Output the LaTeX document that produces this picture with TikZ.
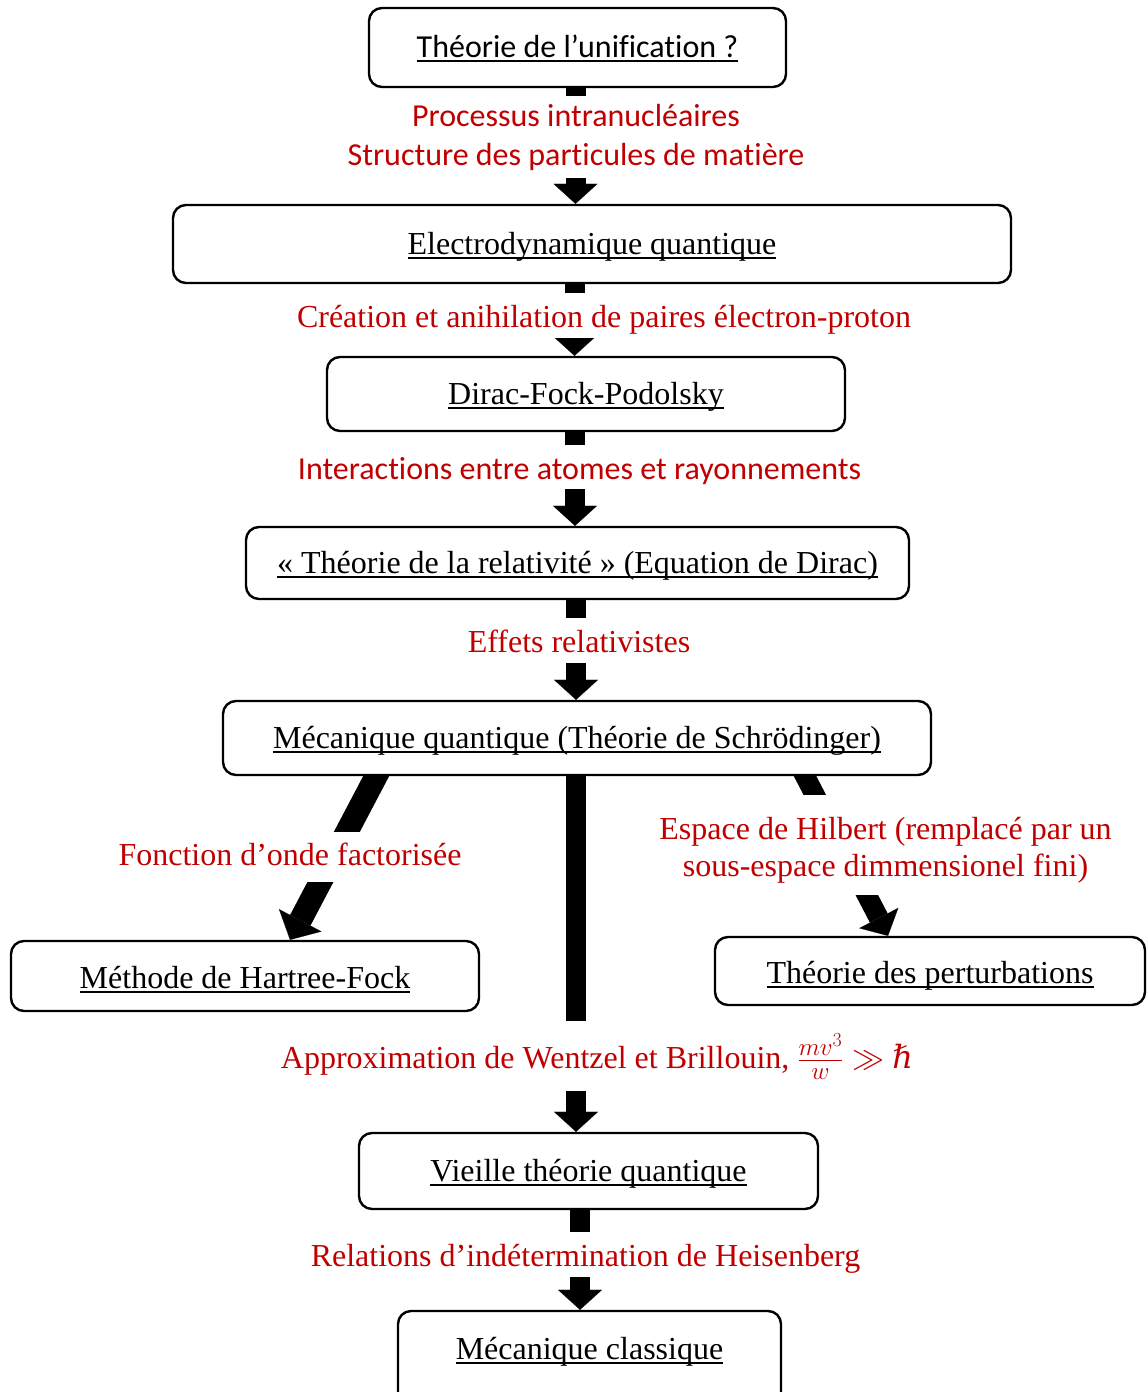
\RequirePackage{fix-cm}
\documentclass[tikz,border=0pt]{standalone}
\usepackage{fontspec}
\setmainfont[Ligatures={TeX,NoCommon}]{Liberation Serif}
\newfontfamily\calibri[Ligatures={TeX,NoCommon}]{Carlito}
\newfontfamily\djs{DejaVu Serif}
\usetikzlibrary{arrows.meta,backgrounds,calc}
\definecolor{lred}{RGB}{192,0,0}
\DeclareMathSizes{32}{32}{25}{20}
\newcommand\ulx[1]{\setbox0\hbox{#1}\rlap{\rule[-0.15em]{\wd0}{0.06em}}\box0}
\begin{document}
\begin{tikzpicture}[x=1pt,y=-1pt,
  font=\fontsize{32}{38}\selectfont,
  cal/.style={font=\calibri\fontsize{32}{39}\selectfont},
  box/.style={draw, line width=2.4pt, rounded corners=13pt, fill=white, inner sep=0pt, text height=26pt, text depth=6pt},
  lab/.style={fill=white, text=lred, inner xsep=4pt, inner ysep=0pt, text height=28pt, text depth=4pt},
  labm/.style={fill=white, text=lred, inner xsep=4pt, inner ysep=0pt, align=center},
  blk/.style={line width=20pt, -{Triangle[width=44pt,length=20pt,line width=0.1pt]}},
  blkd/.style={line width=23pt, -{Triangle[width=48pt,length=22pt,line width=0.1pt]}}]
\useasboundingbox (0,0) rectangle (1146,1392);
% boxes
\node[box, cal, minimum width=417pt, minimum height=79pt] (b1) at (577.5,47.5) {\ulx{Théorie de l’unification ?}};
\node[box, minimum width=838pt, minimum height=78pt] (b2) at (592,244) {\ulx{Electrodynamique quantique}};
\node[box, minimum width=518pt, minimum height=74pt] (b3) at (586,394) {\ulx{Dirac-Fock-Podolsky}};
\node[box, minimum width=663pt, minimum height=72pt] (b4) at (577.5,563) {\ulx{« Théorie de la relativité » (Equation de Dirac)}};
\node[box, minimum width=708pt, minimum height=74pt] (b5) at (577,738) {\ulx{Mécanique quantique (Théorie de Schrödinger)}};
\node[box, minimum width=468pt, minimum height=70pt, text height=28pt, text depth=4pt] (hf) at (245,976) {\ulx{Méthode de Hartree-Fock}};
\node[box, minimum width=430pt, minimum height=68pt, text height=28pt, text depth=4pt] (pt) at (930,971) {\ulx{Théorie des perturbations}};
\node[box, minimum width=459pt, minimum height=76pt] (b8) at (588.5,1171) {\ulx{Vieille théorie quantique}};
\node[box, minimum width=383pt, inner ysep=22pt, text depth=80pt, anchor=base] (b9) at (589.5,1359) {\ulx{Mécanique classique}};
% labels
\node[labm, cal, minimum height=82pt] (l1) at (576,137) {Processus intranucléaires\\Structure des particules de matière};
\node[lab, minimum height=45pt] (l2) at (604,315.5) {Création et anihilation de paires électron-proton};
\node[lab, cal, minimum height=44pt] (l3) at (579.5,467) {Interactions entre atomes et rayonnements};
\node[lab, minimum height=45pt] (l4) at (579,640.5) {Effets relativistes};
\node[lab, minimum height=50pt, text height=24pt, text depth=8pt] (l5) at (290,857) {Fonction d’onde factorisée};
\node[labm, font=\fontsize{32}{37}\selectfont, minimum height=100pt] (l6) at (885.5,845) {\rule{0pt}{32pt}Espace de Hilbert (remplacé par un\\sous-espace dimmensionel fini)};
\node[lab, minimum height=70pt] (l7) at (597,1056) {Approximation de Wentzel et Brillouin, $\frac{mv^3}{w}\gg$ {\djs\itshape ℏ}};
\node[lab, minimum height=45pt] (l8) at (585.5,1254.5) {Relations d’indétermination de Heisenberg};
% arrows
\begin{scope}[on background layer]
\draw[blk] ([xshift=-2pt]b1.south) -- ([xshift=-2pt]b1.south |- b2.north);
\draw[blk] ([xshift=-17.5pt]b2.south) -- ([xshift=-17.5pt]b2.south |- b3.north);
\draw[blk] ([xshift=-11pt]b3.south) -- ([xshift=-11pt]b3.south |- b4.north);
\draw[blk] ([xshift=-1.5pt]b4.south) -- ([xshift=-1.5pt]b4.south |- b5.north);
\draw[blk] ([xshift=-1pt]b5.south) -- ([xshift=-1pt]b5.south |- b8.north);
\draw[blk] ([xshift=-8.5pt]b8.south) -- ([xshift=-8.5pt]b8.south |- b9.north);
\draw[blkd] ($(b5.south)+(-193,-15)$) -- ($(hf.north)+(45,0)$);
\draw[blk] ($(b5.south)+(220.3,-15)$) -- ($(pt.north)+(-42,0)$);
\end{scope}
\end{tikzpicture}
\end{document}
